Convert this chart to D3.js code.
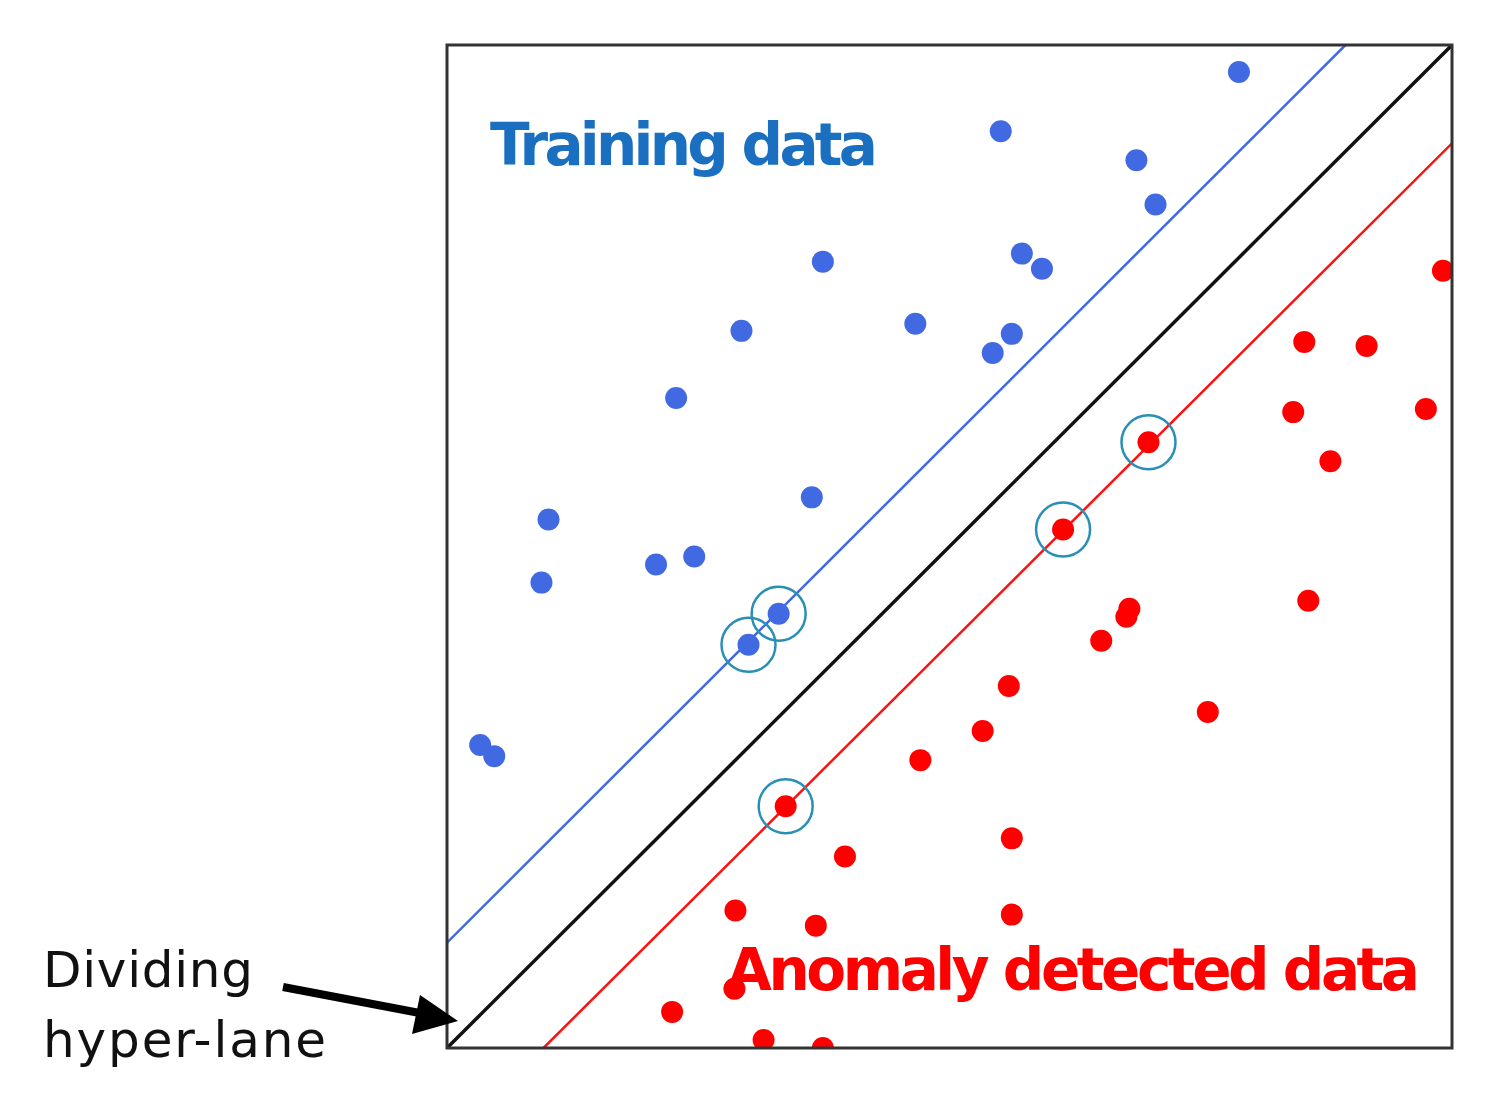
<!DOCTYPE html>
<html>
<head>
<meta charset="utf-8">
<script src="https://cdn.jsdelivr.net/npm/d3@7"></script>
<style>
  body { margin: 0; background: #fff; }
  text { font-family: "DejaVu Sans", sans-serif; }
</style>
</head>
<body>
<svg id="chart" width="1496" height="1099"></svg>
<script>
// points in plot units (0..100 both axes)
const trainingX = [78.8, 55.1, 68.6, 70.5, 37.4, 57.2, 59.2, 29.3, 46.6, 56.2, 54.3, 22.8, 36.3, 10.1, 9.4, 20.8, 24.6, 33.0, 30.0, 3.3, 4.7];
const trainingY = [97.3, 91.4, 88.5, 84.1, 78.4, 79.2, 77.7, 71.5, 72.2, 71.2, 69.3, 64.8, 54.9, 52.7, 46.4, 48.2, 49.0, 43.3, 40.2, 30.2, 29.1];
const anomalyX = [99.1, 85.3, 91.5, 84.2, 97.4, 87.9, 69.8, 61.3, 85.7, 67.9, 67.6, 65.1, 55.9, 53.3, 75.7, 47.1, 33.7, 39.6, 56.2, 28.7, 36.7, 56.2, 28.6, 22.4, 31.5, 37.4];
const anomalyY = [77.5, 70.4, 70.0, 63.4, 63.7, 58.5, 60.4, 51.7, 44.6, 43.8, 43.0, 40.6, 36.1, 31.6, 33.5, 28.7, 24.1, 19.1, 20.9, 13.7, 12.2, 13.3, 5.9, 3.6, 0.8, 0.0];
const supportX = [69.8, 61.3, 33.7, 33.0, 30.0];
const supportY = [60.4, 51.7, 24.1, 43.3, 40.2];
// lines: [x1, y1, x2, y2]
const upperMargin = [0, 10.5, 89.4, 100];
const divider = [0, 0, 100, 100];
const lowerMargin = [9.6, 0, 100, 90.2];

const svg = d3.select("#chart");
const x = d3.scaleLinear().domain([0, 100]).range([447, 1452]);
const y = d3.scaleLinear().domain([0, 100]).range([1048, 45]);

svg.append("defs").append("clipPath").attr("id", "box")
  .append("rect").attr("x", 447).attr("y", 45).attr("width", 1005).attr("height", 1003);

const plot = svg.append("g").attr("clip-path", "url(#box)");

const lines = [[upperMargin, "#4169e1", 2.5], [divider, "#111", 3.5], [lowerMargin, "#ff1010", 2.5]];
for (const [l, c, w] of lines) {
  plot.append("line")
    .attr("x1", x(l[0])).attr("y1", y(l[1]))
    .attr("x2", x(l[2])).attr("y2", y(l[3]))
    .attr("stroke", c).attr("stroke-width", w);
}

plot.selectAll(".train").data(trainingX).join("circle")
  .attr("cx", d => x(d)).attr("cy", (d, i) => y(trainingY[i]))
  .attr("r", 11).attr("fill", "#4169e1");

plot.selectAll(".anom").data(anomalyX).join("circle")
  .attr("cx", d => x(d)).attr("cy", (d, i) => y(anomalyY[i]))
  .attr("r", 11).attr("fill", "#ff0000");

plot.selectAll(".sv").data(supportX).join("circle")
  .attr("cx", d => x(d)).attr("cy", (d, i) => y(supportY[i]))
  .attr("r", 27).attr("fill", "none").attr("stroke", "#2a8fb5").attr("stroke-width", 2.5);

svg.append("rect").attr("x", 447).attr("y", 45).attr("width", 1005).attr("height", 1003)
  .attr("fill", "none").attr("stroke", "#333").attr("stroke-width", 3);

svg.append("text").attr("x", 490).attr("y", 165).attr("font-size", 58).attr("font-weight", "bold")
  .attr("textLength", 388).attr("fill", "#1a6fc0").text("Training data");
svg.append("text").attr("x", 727).attr("y", 990).attr("font-size", 58).attr("font-weight", "bold")
  .attr("textLength", 693).attr("fill", "#ff0000").text("Anomaly detected data");
svg.append("text").attr("x", 43).attr("y", 987).attr("font-size", 50)
  .attr("textLength", 210).attr("fill", "#111").text("Dividing");
svg.append("text").attr("x", 43).attr("y", 1057).attr("font-size", 50)
  .attr("textLength", 283).attr("fill", "#111").text("hyper-lane");

// arrow
svg.append("line").attr("x1", 283).attr("y1", 987).attr("x2", 425).attr("y2", 1014)
  .attr("stroke", "#000").attr("stroke-width", 8);
svg.append("path").attr("d", "M458,1021 L420,995 L412,1034 Z").attr("fill", "#000");
</script>
</body>
</html>
